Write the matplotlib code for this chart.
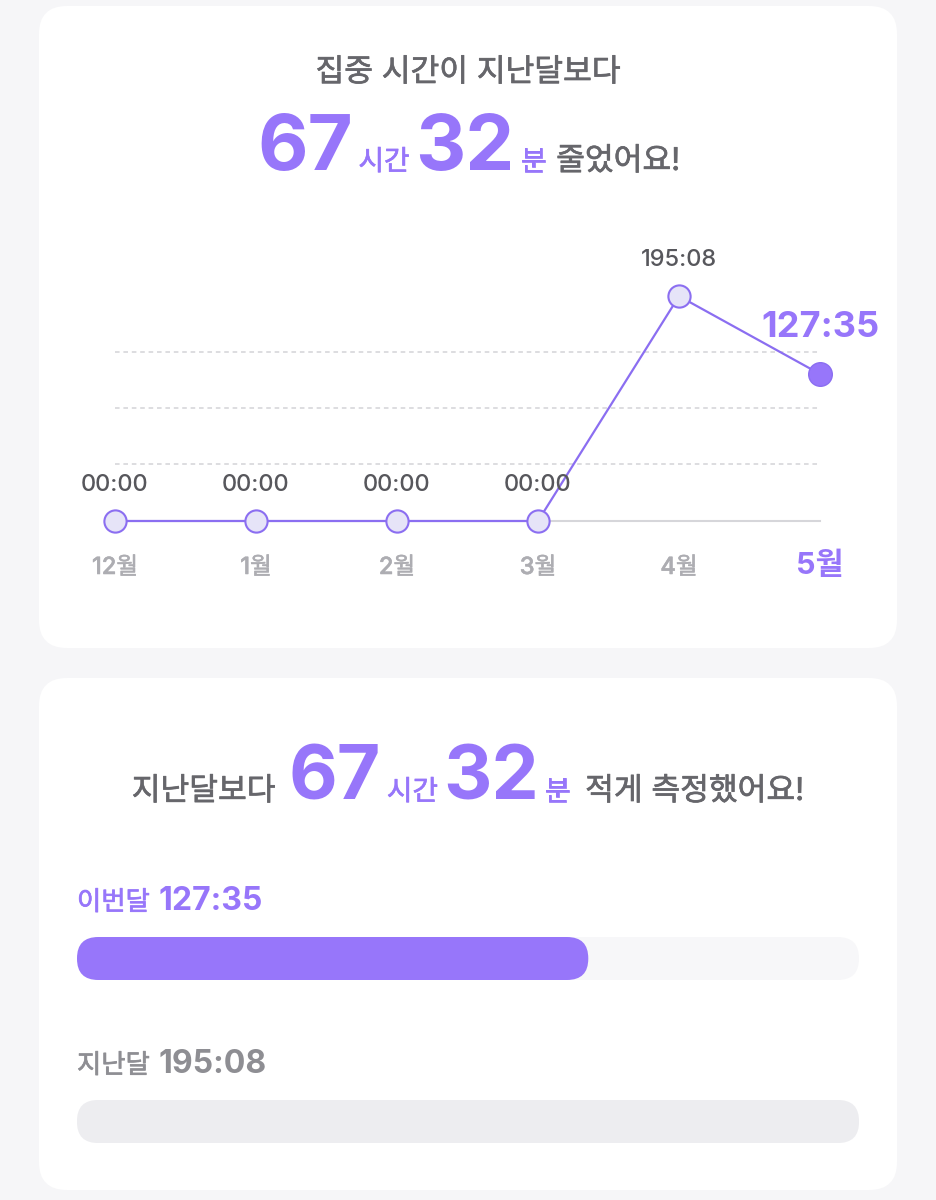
import matplotlib
matplotlib.use("Agg")
import matplotlib.pyplot as plt
import matplotlib.patheffects as pe
from matplotlib.patches import FancyBboxPatch

W, H, DPI = 936, 1200, 100

# ---- data ----
MONTHS = ["12월", "1월", "2월", "3월", "4월", "5월"]
HOURS = [0.0, 0.0, 0.0, 0.0, 195 + 8 / 60, 127 + 35 / 60]
VALUE_LABELS = ["00:00", "00:00", "00:00", "00:00", "195:08", "127:35"]
GRID_LEVELS = [49.5, 98.0, 146.5]

BAR_NAMES = ["이번달", "지난달"]
BAR_VALUES = [127 + 35 / 60, 195 + 8 / 60]
BAR_LABELS = ["127:35", "195:08"]

DIFF_H, DIFF_M = "67", "32"

# ---- style ----
BG = "#f6f6f8"
PURPLE = "#9776fa"
LINE_PURPLE = "#8b6ef1"
MARK_FACE = "#e6e4f8"
TITLE_GRAY = "#66666b"
LABEL_GRAY = "#57575c"
MONTH_GRAY = "#adadb2"
GRID = "#d3d3d7"
FONT = ["Inter", "Noto Sans CJK KR", "DejaVu Sans"]

plt.rcParams["font.family"] = FONT

fig = plt.figure(figsize=(W / DPI, H / DPI), dpi=DPI)
fig.patch.set_facecolor(BG)


def px_axes(x0, y0, x1, y1):
    return fig.add_axes([x0 / W, 1 - y1 / H, (x1 - x0) / W, (y1 - y0) / H])


def thick(color, lw=0.5):
    # slightly heavier strokes for the Korean text (medium look)
    return [pe.withStroke(linewidth=lw, foreground=color)]


# background layer in pixel units
bg = fig.add_axes([0, 0, 1, 1])
bg.set_xlim(0, W)
bg.set_ylim(H, 0)
bg.axis("off")
bg.set_zorder(0)

for (x0, y0, x1, y1) in [(39, 6, 897, 648), (39, 678, 897, 1190)]:
    bg.add_patch(FancyBboxPatch((x0, y0), x1 - x0, y1 - y0,
                                boxstyle="round,pad=0,rounding_size=28",
                                fc="white", ec="none"))

renderer = fig.canvas.get_renderer()


def text_run(pieces, y, cx=None, x=None):
    """pieces: (text, size, weight, color, gap_after_px)"""
    objs = []
    total = 0
    for i, (s, size, weight, color, gap) in enumerate(pieces):
        t = bg.text(0, y, s, fontsize=size, fontweight=weight, color=color,
                    ha="left", va="baseline")
        if weight != "bold":
            t.set_path_effects(thick(color))
        w = t.get_window_extent(renderer=renderer).width
        objs.append((t, w, gap))
        total += w + (gap if i < len(pieces) - 1 else 0)
    pos = cx - total / 2 if cx is not None else x
    for t, w, gap in objs:
        t.set_x(pos)
        pos += w + gap


# ---- card 1 header ----
bg.text(468, 73, "집중 시간이 지난달보다", fontsize=22.5, color=TITLE_GRAY,
        ha="center", va="center", path_effects=thick(TITLE_GRAY))
text_run([(DIFF_H, 56, "bold", PURPLE, 5),
          ("시간", 20, "normal", PURPLE, 6),
          (DIFF_M, 56, "bold", PURPLE, 6),
          ("분", 20, "normal", PURPLE, 10),
          ("줄었어요!", 22.5, "normal", TITLE_GRAY, 0)], y=170, cx=469)

# ---- line chart ----
ax = px_axes(115, 271, 820, 521)
ax.set_zorder(1)
ax.patch.set_alpha(0)
ax.set_xlim(0, len(HOURS) - 1)
ax.set_ylim(0, 217)
ax.axis("off")

xs = list(range(len(HOURS)))
ax.plot([xs[0], xs[-1]], [0, 0], color="#d6d6da", lw=1.5, zorder=1,
        clip_on=False)
for g in GRID_LEVELS:
    ax.plot([xs[0], xs[-1]], [g, g], color=GRID, lw=1.1, dashes=(3, 2.5),
            zorder=1)
ax.plot(xs, HOURS, color=LINE_PURPLE, lw=1.6, zorder=2, clip_on=False)
ax.plot(xs[:-1], HOURS[:-1], "o", ms=16, mfc=MARK_FACE, mec=LINE_PURPLE,
        mew=1.5, zorder=3, clip_on=False)
ax.plot(xs[-1:], HOURS[-1:], "o", ms=17, mfc=PURPLE, mec=LINE_PURPLE,
        mew=1.0, zorder=3, clip_on=False)

last = len(HOURS) - 1
for i, (v, lab, m) in enumerate(zip(HOURS, VALUE_LABELS, MONTHS)):
    if i == last:
        ax.annotate(lab, (i, v), xytext=(0, 47 * 0.72), textcoords="offset points",
                    ha="center", va="center", fontsize=26, fontweight="bold",
                    color=PURPLE)
        ax.annotate(m, (i, 0), xytext=(0, -45 * 0.72), textcoords="offset points",
                    ha="center", va="center", fontsize=22, fontweight="bold",
                    color=PURPLE)
    else:
        ax.annotate(lab, (i, v), xytext=(0, 36 * 0.72), textcoords="offset points",
                    ha="center", va="center", fontsize=17, fontweight="medium",
                    color=LABEL_GRAY)
        ax.annotate(m, (i, 0), xytext=(0, -47 * 0.72), textcoords="offset points",
                    ha="center", va="center", fontsize=17, fontweight="medium",
                    color=MONTH_GRAY, path_effects=thick(MONTH_GRAY, 0.4))

# ---- card 2 header ----
text_run([("지난달보다", 22.5, "normal", TITLE_GRAY, 13),
          (DIFF_H, 54, "bold", PURPLE, 6),
          ("시간", 20, "normal", PURPLE, 5),
          (DIFF_M, 54, "bold", PURPLE, 6),
          ("분", 20, "normal", PURPLE, 15),
          ("적게 측정했어요!", 22.5, "normal", TITLE_GRAY, 0)], y=800, cx=468)

# ---- comparison bars ----
row_px = 163.0
bax = px_axes(77, 958.5 - 0.2 * row_px, 859, 1121.5 + 0.2 * row_px)
bax.set_zorder(1)
bax.patch.set_alpha(0)
vmax = max(BAR_VALUES)
bax.set_xlim(0, vmax)
bax.set_ylim(1.2, -0.2)
bax.axis("off")

kx = 782 / vmax
aspect = kx / row_px
hh = 21.5 / row_px
r = 21.3 / kx
fills = [PURPLE, "#ededf0"]
label_colors = [PURPLE, "#8e8e93"]
for i, (name, v, lab) in enumerate(zip(BAR_NAMES, BAR_VALUES, BAR_LABELS)):
    bax.add_patch(FancyBboxPatch((0, i - hh), vmax, 2 * hh,
                                 boxstyle=f"round,pad=0,rounding_size={r}",
                                 mutation_aspect=aspect, fc="#f7f7f9", ec="none"))
    bax.add_patch(FancyBboxPatch((0, i - hh), v, 2 * hh,
                                 boxstyle=f"round,pad=0,rounding_size={r}",
                                 mutation_aspect=aspect, fc=fills[i], ec="none"))
    text_run([(name, 19, "normal", label_colors[i], 9),
              (lab, 23, "bold", label_colors[i], 0)],
             y=[910, 1073][i], x=77)

fig.savefig("out.png", dpi=DPI, facecolor=BG)
